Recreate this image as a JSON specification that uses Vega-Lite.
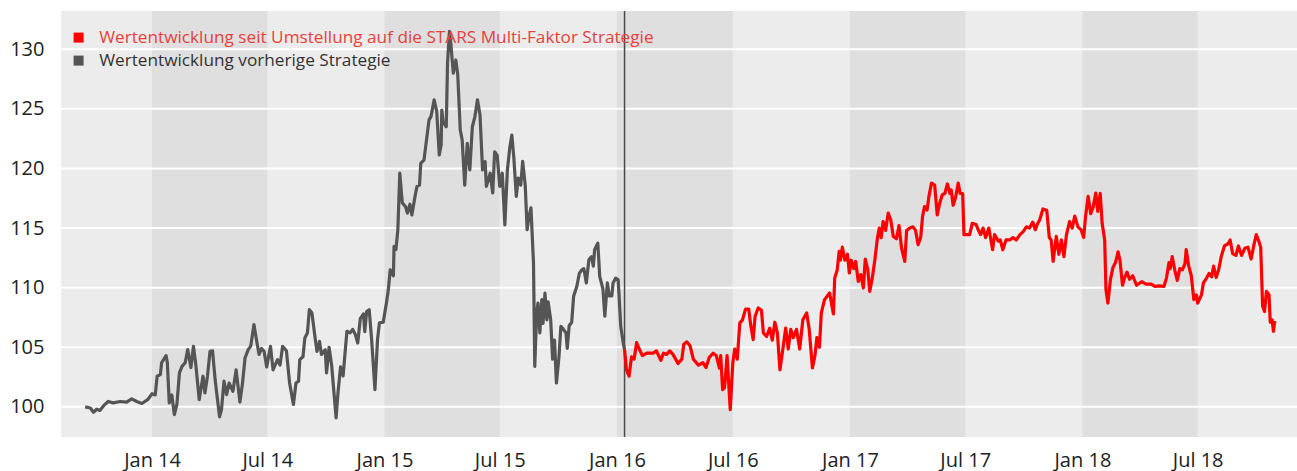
{
"$schema": "https://vega.github.io/schema/vega-lite/v6.json",
"width": 1236, "height": 426,
"autosize": "none",
"padding": {"left": 61, "top": 11, "right": 0, "bottom": 34},
"background": "white",
"config": {
  "view": {"fill": "#ececec", "stroke": null},
  "font": "Open Sans",
  "axis": {"domain": false, "ticks": false, "grid": false, "labelFontSize": 20, "labelColor": "#222222", "title": null}
},
"datasets": {
  "bands": [
    {"start":"2014-01-01","end":"2014-07-01"},
    {"start":"2015-01-01","end":"2015-07-01"},
    {"start":"2016-01-01","end":"2016-07-01"},
    {"start":"2017-01-01","end":"2017-07-01"},
    {"start":"2018-01-01","end":"2018-07-01"}
  ],
  "grid": [{"v":100},{"v":105},{"v":110},{"v":115},{"v":120},{"v":125},{"v":130}],
  "split": [{"d":"2016-01-13"}],
  "series": [
{"d":"2013-09-18","v":100.0,"s":"alt"},{"d":"2013-09-26","v":99.9,"s":"alt"},{"d":"2013-10-01","v":99.55,"s":"alt"},{"d":"2013-10-06","v":99.8,"s":"alt"},{"d":"2013-10-11","v":99.7,"s":"alt"},{"d":"2013-10-17","v":100.1,"s":"alt"},{"d":"2013-10-24","v":100.45,"s":"alt"},{"d":"2013-11-01","v":100.33,"s":"alt"},{"d":"2013-11-12","v":100.45,"s":"alt"},{"d":"2013-11-22","v":100.4,"s":"alt"},{"d":"2013-11-30","v":100.67,"s":"alt"},{"d":"2013-12-08","v":100.45,"s":"alt"},{"d":"2013-12-16","v":100.28,"s":"alt"},{"d":"2013-12-25","v":100.6,"s":"alt"},
{"d":"2014-01-01","v":101.1,"s":"alt"},{"d":"2014-01-06","v":101.0,"s":"alt"},{"d":"2014-01-09","v":102.57,"s":"alt"},{"d":"2014-01-14","v":102.7,"s":"alt"},{"d":"2014-01-16","v":103.7,"s":"alt"},{"d":"2014-01-23","v":104.3,"s":"alt"},{"d":"2014-01-25","v":103.7,"s":"alt"},{"d":"2014-01-28","v":100.33,"s":"alt"},{"d":"2014-02-01","v":101.0,"s":"alt"},{"d":"2014-02-05","v":99.35,"s":"alt"},{"d":"2014-02-09","v":100.2,"s":"alt"},{"d":"2014-02-13","v":102.85,"s":"alt"},{"d":"2014-02-17","v":103.4,"s":"alt"},{"d":"2014-02-22","v":103.7,"s":"alt"},{"d":"2014-02-26","v":104.8,"s":"alt"},{"d":"2014-03-03","v":103.3,"s":"alt"},{"d":"2014-03-07","v":105.08,"s":"alt"},{"d":"2014-03-11","v":103.4,"s":"alt"},{"d":"2014-03-16","v":100.6,"s":"alt"},{"d":"2014-03-22","v":102.57,"s":"alt"},{"d":"2014-03-25","v":101.17,"s":"alt"},{"d":"2014-03-29","v":102.57,"s":"alt"},{"d":"2014-04-02","v":104.66,"s":"alt"},{"d":"2014-04-06","v":104.7,"s":"alt"},{"d":"2014-04-10","v":102.29,"s":"alt"},{"d":"2014-04-17","v":99.16,"s":"alt"},{"d":"2014-04-20","v":99.77,"s":"alt"},{"d":"2014-04-24","v":102.15,"s":"alt"},{"d":"2014-04-28","v":101.03,"s":"alt"},{"d":"2014-05-02","v":102.0,"s":"alt"},{"d":"2014-05-08","v":101.3,"s":"alt"},{"d":"2014-05-13","v":103.1,"s":"alt"},{"d":"2014-05-19","v":100.4,"s":"alt"},{"d":"2014-05-23","v":101.97,"s":"alt"},{"d":"2014-05-27","v":104.1,"s":"alt"},{"d":"2014-06-01","v":104.8,"s":"alt"},{"d":"2014-06-05","v":105.1,"s":"alt"},{"d":"2014-06-10","v":106.9,"s":"alt"},{"d":"2014-06-14","v":105.6,"s":"alt"},{"d":"2014-06-18","v":104.4,"s":"alt"},{"d":"2014-06-22","v":104.9,"s":"alt"},{"d":"2014-06-26","v":104.65,"s":"alt"},{"d":"2014-06-30","v":103.35,"s":"alt"},{"d":"2014-07-06","v":105.08,"s":"alt"},{"d":"2014-07-10","v":103.1,"s":"alt"},{"d":"2014-07-17","v":103.96,"s":"alt"},{"d":"2014-07-21","v":103.5,"s":"alt"},{"d":"2014-07-25","v":105.08,"s":"alt"},{"d":"2014-07-31","v":104.7,"s":"alt"},{"d":"2014-08-05","v":102.0,"s":"alt"},{"d":"2014-08-11","v":100.2,"s":"alt"},{"d":"2014-08-15","v":102.0,"s":"alt"},{"d":"2014-08-19","v":102.15,"s":"alt"},{"d":"2014-08-21","v":103.96,"s":"alt"},{"d":"2014-08-26","v":104.2,"s":"alt"},{"d":"2014-08-29","v":105.8,"s":"alt"},{"d":"2014-09-02","v":106.2,"s":"alt"},{"d":"2014-09-05","v":108.15,"s":"alt"},{"d":"2014-09-09","v":107.9,"s":"alt"},{"d":"2014-09-14","v":105.8,"s":"alt"},{"d":"2014-09-17","v":104.65,"s":"alt"},{"d":"2014-09-21","v":105.5,"s":"alt"},{"d":"2014-09-24","v":104.4,"s":"alt"},{"d":"2014-09-30","v":104.8,"s":"alt"},{"d":"2014-10-02","v":102.85,"s":"alt"},{"d":"2014-10-06","v":105.0,"s":"alt"},{"d":"2014-10-10","v":103.5,"s":"alt"},{"d":"2014-10-17","v":99.08,"s":"alt"},{"d":"2014-10-20","v":101.2,"s":"alt"},{"d":"2014-10-24","v":103.35,"s":"alt"},{"d":"2014-10-28","v":102.6,"s":"alt"},{"d":"2014-11-03","v":106.34,"s":"alt"},{"d":"2014-11-08","v":106.2,"s":"alt"},{"d":"2014-11-12","v":106.5,"s":"alt"},{"d":"2014-11-16","v":106.1,"s":"alt"},{"d":"2014-11-20","v":105.36,"s":"alt"},{"d":"2014-11-24","v":107.4,"s":"alt"},{"d":"2014-11-29","v":107.8,"s":"alt"},{"d":"2014-12-01","v":106.3,"s":"alt"},{"d":"2014-12-04","v":108.0,"s":"alt"},{"d":"2014-12-08","v":108.15,"s":"alt"},{"d":"2014-12-12","v":105.5,"s":"alt"},{"d":"2014-12-17","v":101.45,"s":"alt"},{"d":"2014-12-21","v":105.6,"s":"alt"},{"d":"2014-12-24","v":107.04,"s":"alt"},{"d":"2014-12-30","v":107.1,"s":"alt"},
{"d":"2015-01-04","v":108.7,"s":"alt"},{"d":"2015-01-07","v":109.8,"s":"alt"},{"d":"2015-01-10","v":111.5,"s":"alt"},{"d":"2015-01-15","v":111.0,"s":"alt"},{"d":"2015-01-16","v":113.46,"s":"alt"},{"d":"2015-01-19","v":113.2,"s":"alt"},{"d":"2015-01-22","v":114.86,"s":"alt"},{"d":"2015-01-25","v":119.6,"s":"alt"},{"d":"2015-01-29","v":117.1,"s":"alt"},{"d":"2015-02-03","v":116.8,"s":"alt"},{"d":"2015-02-06","v":116.26,"s":"alt"},{"d":"2015-02-10","v":117.0,"s":"alt"},{"d":"2015-02-13","v":116.1,"s":"alt"},{"d":"2015-02-18","v":117.66,"s":"alt"},{"d":"2015-02-21","v":118.5,"s":"alt"},{"d":"2015-02-25","v":118.6,"s":"alt"},{"d":"2015-02-27","v":120.45,"s":"alt"},{"d":"2015-03-04","v":120.7,"s":"alt"},{"d":"2015-03-08","v":122.4,"s":"alt"},{"d":"2015-03-12","v":124.08,"s":"alt"},{"d":"2015-03-15","v":124.35,"s":"alt"},{"d":"2015-03-20","v":125.76,"s":"alt"},{"d":"2015-03-24","v":124.8,"s":"alt"},{"d":"2015-03-28","v":121.13,"s":"alt"},{"d":"2015-03-31","v":122.0,"s":"alt"},{"d":"2015-04-01","v":124.9,"s":"alt"},{"d":"2015-04-03","v":123.9,"s":"alt"},{"d":"2015-04-08","v":123.5,"s":"alt"},{"d":"2015-04-10","v":128.83,"s":"alt"},{"d":"2015-04-13","v":131.5,"s":"alt"},{"d":"2015-04-15","v":130.6,"s":"alt"},{"d":"2015-04-19","v":128.0,"s":"alt"},{"d":"2015-04-23","v":129.1,"s":"alt"},{"d":"2015-04-26","v":127.9,"s":"alt"},{"d":"2015-04-30","v":123.23,"s":"alt"},{"d":"2015-05-03","v":122.4,"s":"alt"},{"d":"2015-05-07","v":118.6,"s":"alt"},{"d":"2015-05-11","v":122.1,"s":"alt"},{"d":"2015-05-15","v":119.88,"s":"alt"},{"d":"2015-05-19","v":123.5,"s":"alt"},{"d":"2015-05-23","v":124.35,"s":"alt"},{"d":"2015-05-27","v":125.76,"s":"alt"},{"d":"2015-05-31","v":124.5,"s":"alt"},{"d":"2015-06-04","v":119.88,"s":"alt"},{"d":"2015-06-08","v":120.58,"s":"alt"},{"d":"2015-06-10","v":118.5,"s":"alt"},{"d":"2015-06-16","v":119.6,"s":"alt"},{"d":"2015-06-20","v":117.94,"s":"alt"},{"d":"2015-06-23","v":121.4,"s":"alt"},{"d":"2015-06-27","v":121.1,"s":"alt"},{"d":"2015-07-01","v":118.5,"s":"alt"},{"d":"2015-07-05","v":119.6,"s":"alt"},{"d":"2015-07-09","v":115.27,"s":"alt"},{"d":"2015-07-13","v":119.88,"s":"alt"},{"d":"2015-07-17","v":121.85,"s":"alt"},{"d":"2015-07-20","v":122.8,"s":"alt"},{"d":"2015-07-23","v":121.0,"s":"alt"},{"d":"2015-07-27","v":117.66,"s":"alt"},{"d":"2015-07-30","v":119.2,"s":"alt"},{"d":"2015-08-03","v":118.6,"s":"alt"},{"d":"2015-08-06","v":120.6,"s":"alt"},{"d":"2015-08-10","v":118.6,"s":"alt"},{"d":"2015-08-13","v":114.86,"s":"alt"},{"d":"2015-08-16","v":116.0,"s":"alt"},{"d":"2015-08-19","v":116.7,"s":"alt"},{"d":"2015-08-23","v":112.07,"s":"alt"},{"d":"2015-08-25","v":103.4,"s":"alt"},{"d":"2015-08-28","v":107.88,"s":"alt"},{"d":"2015-08-30","v":108.7,"s":"alt"},{"d":"2015-09-02","v":106.2,"s":"alt"},{"d":"2015-09-05","v":109.0,"s":"alt"},{"d":"2015-09-07","v":107.0,"s":"alt"},{"d":"2015-09-10","v":109.55,"s":"alt"},{"d":"2015-09-13","v":107.3,"s":"alt"},{"d":"2015-09-15","v":108.8,"s":"alt"},{"d":"2015-09-19","v":107.3,"s":"alt"},{"d":"2015-09-22","v":104.0,"s":"alt"},{"d":"2015-09-25","v":105.6,"s":"alt"},{"d":"2015-09-28","v":102.0,"s":"alt"},{"d":"2015-10-02","v":104.2,"s":"alt"},{"d":"2015-10-05","v":106.76,"s":"alt"},{"d":"2015-10-09","v":106.5,"s":"alt"},{"d":"2015-10-13","v":106.2,"s":"alt"},{"d":"2015-10-15","v":104.9,"s":"alt"},{"d":"2015-10-18","v":106.8,"s":"alt"},{"d":"2015-10-22","v":107.1,"s":"alt"},{"d":"2015-10-25","v":109.27,"s":"alt"},{"d":"2015-10-30","v":110.1,"s":"alt"},{"d":"2015-11-03","v":111.2,"s":"alt"},{"d":"2015-11-07","v":111.5,"s":"alt"},{"d":"2015-11-10","v":111.6,"s":"alt"},{"d":"2015-11-14","v":110.4,"s":"alt"},{"d":"2015-11-18","v":112.34,"s":"alt"},{"d":"2015-11-22","v":112.6,"s":"alt"},{"d":"2015-11-25","v":111.8,"s":"alt"},{"d":"2015-11-27","v":113.18,"s":"alt"},{"d":"2015-12-02","v":113.74,"s":"alt"},{"d":"2015-12-05","v":110.95,"s":"alt"},{"d":"2015-12-10","v":109.9,"s":"alt"},{"d":"2015-12-13","v":107.6,"s":"alt"},{"d":"2015-12-17","v":110.4,"s":"alt"},{"d":"2015-12-20","v":109.3,"s":"alt"},{"d":"2015-12-24","v":109.3,"s":"alt"},{"d":"2015-12-26","v":110.4,"s":"alt"},{"d":"2015-12-30","v":110.8,"s":"alt"},{"d":"2016-01-03","v":110.65,"s":"alt"},{"d":"2016-01-07","v":106.76,"s":"alt"},{"d":"2016-01-11","v":105.36,"s":"alt"},{"d":"2016-01-13","v":104.8,"s":"alt"},
{"d":"2016-01-13","v":104.8,"s":"neu"},{"d":"2016-01-16","v":103.1,"s":"neu"},{"d":"2016-01-20","v":102.57,"s":"neu"},{"d":"2016-01-24","v":104.2,"s":"neu"},{"d":"2016-01-28","v":104.0,"s":"neu"},{"d":"2016-02-01","v":105.4,"s":"neu"},{"d":"2016-02-05","v":104.85,"s":"neu"},{"d":"2016-02-10","v":104.3,"s":"neu"},{"d":"2016-02-17","v":104.5,"s":"neu"},{"d":"2016-02-27","v":104.5,"s":"neu"},{"d":"2016-03-03","v":104.7,"s":"neu"},{"d":"2016-03-10","v":103.9,"s":"neu"},{"d":"2016-03-14","v":104.5,"s":"neu"},{"d":"2016-03-19","v":104.4,"s":"neu"},{"d":"2016-03-24","v":104.7,"s":"neu"},{"d":"2016-03-29","v":104.4,"s":"neu"},{"d":"2016-04-06","v":103.63,"s":"neu"},{"d":"2016-04-12","v":104.0,"s":"neu"},{"d":"2016-04-15","v":105.25,"s":"neu"},{"d":"2016-04-20","v":105.45,"s":"neu"},{"d":"2016-04-25","v":105.1,"s":"neu"},{"d":"2016-04-30","v":104.0,"s":"neu"},{"d":"2016-05-08","v":103.5,"s":"neu"},{"d":"2016-05-15","v":103.7,"s":"neu"},{"d":"2016-05-20","v":103.3,"s":"neu"},{"d":"2016-05-25","v":104.15,"s":"neu"},{"d":"2016-05-31","v":104.5,"s":"neu"},{"d":"2016-06-05","v":104.3,"s":"neu"},{"d":"2016-06-10","v":103.24,"s":"neu"},{"d":"2016-06-12","v":104.3,"s":"neu"},{"d":"2016-06-15","v":101.45,"s":"neu"},{"d":"2016-06-18","v":101.6,"s":"neu"},{"d":"2016-06-22","v":104.3,"s":"neu"},{"d":"2016-06-27","v":99.77,"s":"neu"},{"d":"2016-07-01","v":103.7,"s":"neu"},{"d":"2016-07-04","v":104.85,"s":"neu"},{"d":"2016-07-08","v":104.0,"s":"neu"},{"d":"2016-07-12","v":107.04,"s":"neu"},{"d":"2016-07-16","v":107.27,"s":"neu"},{"d":"2016-07-21","v":108.2,"s":"neu"},{"d":"2016-07-26","v":108.2,"s":"neu"},{"d":"2016-07-29","v":106.9,"s":"neu"},{"d":"2016-08-02","v":105.64,"s":"neu"},{"d":"2016-08-05","v":107.6,"s":"neu"},{"d":"2016-08-10","v":108.3,"s":"neu"},{"d":"2016-08-15","v":108.1,"s":"neu"},{"d":"2016-08-18","v":106.2,"s":"neu"},{"d":"2016-08-23","v":105.9,"s":"neu"},{"d":"2016-08-28","v":106.6,"s":"neu"},{"d":"2016-09-01","v":105.6,"s":"neu"},{"d":"2016-09-05","v":107.1,"s":"neu"},{"d":"2016-09-09","v":106.2,"s":"neu"},{"d":"2016-09-13","v":103.1,"s":"neu"},{"d":"2016-09-17","v":104.6,"s":"neu"},{"d":"2016-09-22","v":106.6,"s":"neu"},{"d":"2016-09-26","v":104.85,"s":"neu"},{"d":"2016-09-30","v":106.5,"s":"neu"},{"d":"2016-10-04","v":105.8,"s":"neu"},{"d":"2016-10-09","v":106.5,"s":"neu"},{"d":"2016-10-14","v":104.85,"s":"neu"},{"d":"2016-10-19","v":107.3,"s":"neu"},{"d":"2016-10-25","v":107.88,"s":"neu"},{"d":"2016-10-29","v":106.5,"s":"neu"},{"d":"2016-11-03","v":103.27,"s":"neu"},{"d":"2016-11-07","v":104.3,"s":"neu"},{"d":"2016-11-10","v":105.8,"s":"neu"},{"d":"2016-11-14","v":105.0,"s":"neu"},{"d":"2016-11-17","v":107.88,"s":"neu"},{"d":"2016-11-22","v":108.99,"s":"neu"},{"d":"2016-11-30","v":109.55,"s":"neu"},{"d":"2016-12-06","v":107.8,"s":"neu"},{"d":"2016-12-08","v":110.8,"s":"neu"},{"d":"2016-12-12","v":111.5,"s":"neu"},{"d":"2016-12-15","v":113.04,"s":"neu"},{"d":"2016-12-17","v":112.3,"s":"neu"},{"d":"2016-12-20","v":113.4,"s":"neu"},{"d":"2016-12-24","v":112.3,"s":"neu"},{"d":"2016-12-28","v":112.8,"s":"neu"},{"d":"2016-12-31","v":111.23,"s":"neu"},
{"d":"2017-01-03","v":112.3,"s":"neu"},{"d":"2017-01-07","v":111.6,"s":"neu"},{"d":"2017-01-10","v":112.2,"s":"neu"},{"d":"2017-01-14","v":110.53,"s":"neu"},{"d":"2017-01-18","v":111.1,"s":"neu"},{"d":"2017-01-22","v":109.97,"s":"neu"},{"d":"2017-01-25","v":112.4,"s":"neu"},{"d":"2017-01-29","v":111.5,"s":"neu"},{"d":"2017-02-01","v":109.69,"s":"neu"},{"d":"2017-02-05","v":110.8,"s":"neu"},{"d":"2017-02-09","v":112.3,"s":"neu"},{"d":"2017-02-13","v":114.1,"s":"neu"},{"d":"2017-02-16","v":115.0,"s":"neu"},{"d":"2017-02-19","v":114.2,"s":"neu"},{"d":"2017-02-22","v":115.55,"s":"neu"},{"d":"2017-02-26","v":114.8,"s":"neu"},{"d":"2017-03-02","v":116.26,"s":"neu"},{"d":"2017-03-06","v":115.7,"s":"neu"},{"d":"2017-03-10","v":114.3,"s":"neu"},{"d":"2017-03-15","v":114.1,"s":"neu"},{"d":"2017-03-19","v":115.2,"s":"neu"},{"d":"2017-03-23","v":113.32,"s":"neu"},{"d":"2017-03-28","v":112.2,"s":"neu"},{"d":"2017-03-31","v":114.8,"s":"neu"},{"d":"2017-04-05","v":115.0,"s":"neu"},{"d":"2017-04-10","v":115.1,"s":"neu"},{"d":"2017-04-14","v":114.8,"s":"neu"},{"d":"2017-04-18","v":113.6,"s":"neu"},{"d":"2017-04-22","v":114.2,"s":"neu"},{"d":"2017-04-25","v":115.97,"s":"neu"},{"d":"2017-04-28","v":116.8,"s":"neu"},{"d":"2017-05-02","v":116.5,"s":"neu"},{"d":"2017-05-05","v":117.66,"s":"neu"},{"d":"2017-05-09","v":118.77,"s":"neu"},{"d":"2017-05-14","v":118.6,"s":"neu"},{"d":"2017-05-18","v":116.1,"s":"neu"},{"d":"2017-05-22","v":117.1,"s":"neu"},{"d":"2017-05-26","v":117.8,"s":"neu"},{"d":"2017-05-30","v":117.9,"s":"neu"},{"d":"2017-06-03","v":118.7,"s":"neu"},{"d":"2017-06-07","v":117.9,"s":"neu"},{"d":"2017-06-09","v":118.2,"s":"neu"},{"d":"2017-06-12","v":116.9,"s":"neu"},{"d":"2017-06-16","v":117.6,"s":"neu"},{"d":"2017-06-20","v":118.77,"s":"neu"},{"d":"2017-06-23","v":117.9,"s":"neu"},{"d":"2017-06-27","v":117.9,"s":"neu"},{"d":"2017-06-29","v":114.45,"s":"neu"},{"d":"2017-07-03","v":114.45,"s":"neu"},{"d":"2017-07-08","v":114.45,"s":"neu"},{"d":"2017-07-12","v":115.4,"s":"neu"},{"d":"2017-07-18","v":115.3,"s":"neu"},{"d":"2017-07-21","v":114.9,"s":"neu"},{"d":"2017-07-25","v":114.45,"s":"neu"},{"d":"2017-07-29","v":115.0,"s":"neu"},{"d":"2017-08-02","v":114.2,"s":"neu"},{"d":"2017-08-07","v":115.0,"s":"neu"},{"d":"2017-08-13","v":113.18,"s":"neu"},{"d":"2017-08-16","v":114.45,"s":"neu"},{"d":"2017-08-22","v":113.9,"s":"neu"},{"d":"2017-08-25","v":114.0,"s":"neu"},{"d":"2017-08-29","v":113.18,"s":"neu"},{"d":"2017-09-03","v":114.0,"s":"neu"},{"d":"2017-09-09","v":114.0,"s":"neu"},{"d":"2017-09-14","v":114.2,"s":"neu"},{"d":"2017-09-19","v":114.0,"s":"neu"},{"d":"2017-09-25","v":114.45,"s":"neu"},{"d":"2017-09-30","v":114.7,"s":"neu"},{"d":"2017-10-05","v":115.1,"s":"neu"},{"d":"2017-10-10","v":115.0,"s":"neu"},{"d":"2017-10-15","v":115.5,"s":"neu"},{"d":"2017-10-19","v":114.85,"s":"neu"},{"d":"2017-10-22","v":115.3,"s":"neu"},{"d":"2017-10-26","v":115.7,"s":"neu"},{"d":"2017-10-31","v":116.6,"s":"neu"},{"d":"2017-11-06","v":116.5,"s":"neu"},{"d":"2017-11-10","v":114.2,"s":"neu"},{"d":"2017-11-13","v":114.0,"s":"neu"},{"d":"2017-11-16","v":112.2,"s":"neu"},{"d":"2017-11-21","v":114.3,"s":"neu"},{"d":"2017-11-25","v":112.8,"s":"neu"},{"d":"2017-11-29","v":114.0,"s":"neu"},{"d":"2017-12-03","v":112.6,"s":"neu"},{"d":"2017-12-07","v":114.45,"s":"neu"},{"d":"2017-12-12","v":115.55,"s":"neu"},{"d":"2017-12-16","v":115.0,"s":"neu"},{"d":"2017-12-20","v":116.0,"s":"neu"},{"d":"2017-12-25","v":115.1,"s":"neu"},{"d":"2017-12-30","v":114.85,"s":"neu"},
{"d":"2018-01-03","v":114.2,"s":"neu"},{"d":"2018-01-06","v":116.0,"s":"neu"},{"d":"2018-01-10","v":117.66,"s":"neu"},{"d":"2018-01-14","v":116.2,"s":"neu"},{"d":"2018-01-18","v":116.8,"s":"neu"},{"d":"2018-01-22","v":117.94,"s":"neu"},{"d":"2018-01-25","v":116.4,"s":"neu"},{"d":"2018-01-29","v":117.9,"s":"neu"},{"d":"2018-02-01","v":115.4,"s":"neu"},{"d":"2018-02-05","v":114.0,"s":"neu"},{"d":"2018-02-07","v":109.83,"s":"neu"},{"d":"2018-02-10","v":108.71,"s":"neu"},{"d":"2018-02-14","v":110.67,"s":"neu"},{"d":"2018-02-18","v":111.7,"s":"neu"},{"d":"2018-02-22","v":112.1,"s":"neu"},{"d":"2018-02-26","v":113.0,"s":"neu"},{"d":"2018-03-01","v":112.3,"s":"neu"},{"d":"2018-03-05","v":110.2,"s":"neu"},{"d":"2018-03-08","v":110.8,"s":"neu"},{"d":"2018-03-12","v":111.3,"s":"neu"},{"d":"2018-03-16","v":110.7,"s":"neu"},{"d":"2018-03-21","v":111.0,"s":"neu"},{"d":"2018-03-27","v":110.2,"s":"neu"},{"d":"2018-04-04","v":110.5,"s":"neu"},{"d":"2018-04-11","v":110.3,"s":"neu"},{"d":"2018-04-19","v":110.3,"s":"neu"},{"d":"2018-04-25","v":110.1,"s":"neu"},{"d":"2018-05-02","v":110.15,"s":"neu"},{"d":"2018-05-09","v":110.1,"s":"neu"},{"d":"2018-05-13","v":110.8,"s":"neu"},{"d":"2018-05-17","v":112.1,"s":"neu"},{"d":"2018-05-19","v":111.6,"s":"neu"},{"d":"2018-05-22","v":112.6,"s":"neu"},{"d":"2018-05-26","v":111.5,"s":"neu"},{"d":"2018-05-30","v":110.6,"s":"neu"},{"d":"2018-06-03","v":111.6,"s":"neu"},{"d":"2018-06-07","v":111.5,"s":"neu"},{"d":"2018-06-11","v":112.0,"s":"neu"},{"d":"2018-06-13","v":113.2,"s":"neu"},{"d":"2018-06-17","v":111.8,"s":"neu"},{"d":"2018-06-21","v":111.0,"s":"neu"},{"d":"2018-06-25","v":109.0,"s":"neu"},{"d":"2018-06-29","v":109.4,"s":"neu"},{"d":"2018-07-01","v":108.7,"s":"neu"},{"d":"2018-07-07","v":109.4,"s":"neu"},{"d":"2018-07-10","v":110.4,"s":"neu"},{"d":"2018-07-15","v":110.8,"s":"neu"},{"d":"2018-07-19","v":111.2,"s":"neu"},{"d":"2018-07-23","v":110.9,"s":"neu"},{"d":"2018-07-26","v":111.8,"s":"neu"},{"d":"2018-07-30","v":110.85,"s":"neu"},{"d":"2018-08-03","v":111.5,"s":"neu"},{"d":"2018-08-07","v":112.6,"s":"neu"},{"d":"2018-08-12","v":113.5,"s":"neu"},{"d":"2018-08-18","v":113.7,"s":"neu"},{"d":"2018-08-21","v":114.0,"s":"neu"},{"d":"2018-08-25","v":112.85,"s":"neu"},{"d":"2018-08-30","v":112.7,"s":"neu"},{"d":"2018-09-03","v":113.5,"s":"neu"},{"d":"2018-09-08","v":112.7,"s":"neu"},{"d":"2018-09-13","v":113.3,"s":"neu"},{"d":"2018-09-18","v":113.4,"s":"neu"},{"d":"2018-09-23","v":112.4,"s":"neu"},{"d":"2018-09-27","v":113.5,"s":"neu"},{"d":"2018-10-01","v":114.45,"s":"neu"},{"d":"2018-10-05","v":113.9,"s":"neu"},{"d":"2018-10-08","v":113.4,"s":"neu"},{"d":"2018-10-11","v":108.44,"s":"neu"},{"d":"2018-10-14","v":108.0,"s":"neu"},{"d":"2018-10-17","v":109.69,"s":"neu"},{"d":"2018-10-21","v":109.4,"s":"neu"},{"d":"2018-10-23","v":107.1,"s":"neu"},{"d":"2018-10-26","v":107.3,"s":"neu"},{"d":"2018-10-28","v":106.33,"s":"neu"},{"d":"2018-10-30","v":107.2,"s":"neu"}
  ]
},
"layer": [
  {
    "data": {"name": "bands"},
    "mark": {"type": "rect", "color": "#dfdfdf"},
    "encoding": {
      "x": {"field": "start", "type": "temporal", "title": null,
            "scale": {"type": "utc", "domain": [{"year": 2013, "month": 8, "date": 11, "utc": true}, {"year": 2018, "month": 12, "date": 4, "utc": true}], "nice": false},
            "axis": {"format": "%b %y", "tickCount": {"interval": "month", "step": 6}, "labelPadding": 13, "labelFlush": false, "labelOverlap": false}},
      "x2": {"field": "end"}
    }
  },
  {
    "data": {"name": "grid"},
    "mark": {"type": "rule", "color": "#ffffff", "strokeWidth": 2},
    "encoding": {
      "y": {"field": "v", "type": "quantitative", "title": null,
            "scale": {"domain": [97.47, 133.21], "nice": false, "zero": false},
            "axis": {"values": [100, 105, 110, 115, 120, 125, 130], "labelPadding": 17}}
    }
  },
  {
    "data": {"name": "split"},
    "mark": {"type": "rule", "color": "#4a4a4a", "strokeWidth": 1.5},
    "encoding": {
      "x": {"field": "d", "type": "temporal", "title": null}
    }
  },
  {
    "data": {"name": "series"},
    "mark": {"type": "line", "strokeWidth": 3.2, "strokeJoin": "round"},
    "encoding": {
      "x": {"field": "d", "type": "temporal", "title": null},
      "y": {"field": "v", "type": "quantitative", "title": null},
      "color": {"field": "s", "type": "nominal",
        "scale": {"domain": ["neu", "alt"], "range": ["#ff0000", "#555555"]},
        "legend": {"orient": "none", "legendX": 9, "legendY": 18, "title": null,
          "symbolType": "square", "symbolSize": 25, "symbolStrokeWidth": 5,
          "labelFontSize": 17.2, "labelOffset": 12, "rowPadding": -3, "labelLimit": 0,
          "labelExpr": "datum.value == 'neu' ? 'Wertentwicklung seit Umstellung auf die STARS Multi-Faktor Strategie' : 'Wertentwicklung vorherige Strategie'",
          "labelColor": {"expr": "datum.value == 'neu' ? '#e8413c' : '#333333'"}}}
    }
  }
]
}
